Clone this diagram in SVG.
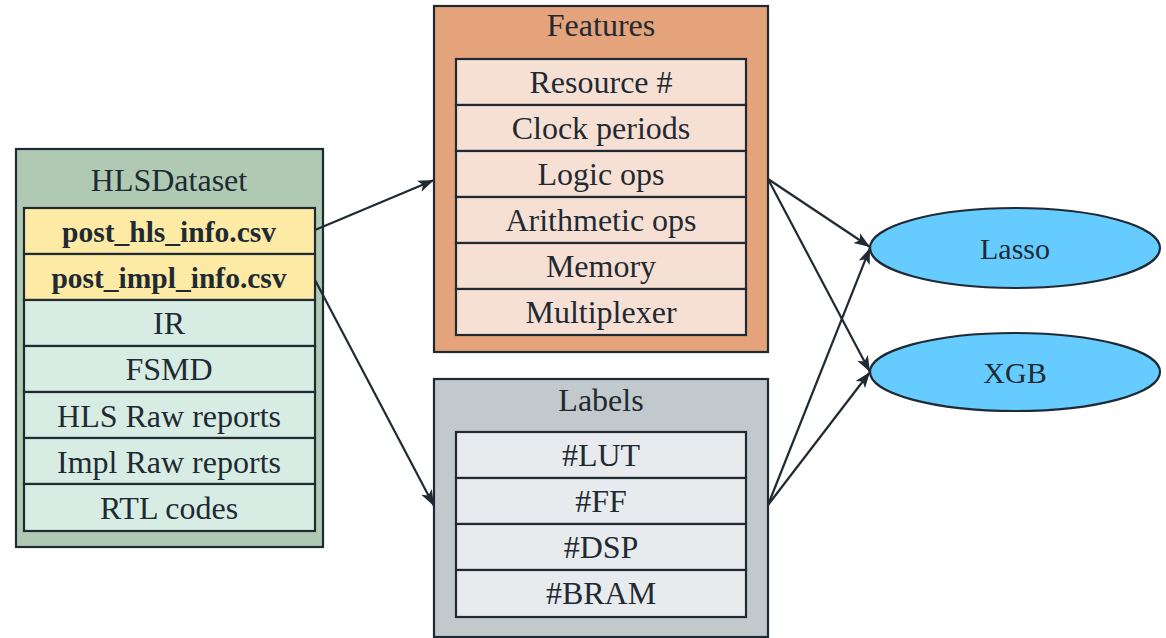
<svg xmlns="http://www.w3.org/2000/svg" width="1166" height="638" viewBox="0 0 1166 638">
  <style>
    text { font-family: "Liberation Serif", "Times New Roman", serif; font-size: 32px; fill: #1f2a33; text-anchor: middle; }
    .bold { font-weight: bold; font-size: 29.5px; }
    .small { font-size: 30px; }
    .outer { stroke: #1f2a33; stroke-width: 2.2; }
    .row { stroke: #1f2a33; stroke-width: 2.2; }
    .ds-outer { fill: #b0c9b3; }
    .ds-row { fill: #d7ede3; }
    .ds-key { fill: #fdeaa5; }
    .ft-outer { fill: #e4a37b; }
    .ft-row { fill: #f6e0d3; }
    .lb-outer { fill: #c1c9cc; }
    .lb-row { fill: #e7ebed; }
    .model { fill: #66cbff; stroke: #1f2a33; stroke-width: 2.2; }
    .edge { fill: none; stroke: #1f2a33; stroke-width: 2.2; }
  </style>
  <defs>
    <marker id="arrow" markerUnits="userSpaceOnUse" markerWidth="18" markerHeight="14" refX="16" refY="6" orient="auto">
      <path d="M0,0 L16,6 L0,12 L4,6 z" fill="#1f2a33"/>
    </marker>
  </defs>

  <rect width="1166" height="638" fill="#ffffff"/>

  <!-- dataset files -->
  <g id="hlsdataset">
    <rect class="outer ds-outer" x="16" y="149" width="307" height="398"/>
    <text x="169" y="191">HLSDataset</text>
    <rect class="row ds-key" x="24" y="208" width="291" height="46"/>
    <rect class="row ds-key" x="24" y="254" width="291" height="46"/>
    <rect class="row ds-row" x="24" y="300" width="291" height="46"/>
    <rect class="row ds-row" x="24" y="346" width="291" height="46"/>
    <rect class="row ds-row" x="24" y="392" width="291" height="46"/>
    <rect class="row ds-row" x="24" y="438" width="291" height="46"/>
    <rect class="row ds-row" x="24" y="484" width="291" height="47"/>
    <text class="bold" x="169" y="242">post_hls_info.csv</text>
    <text class="bold" x="169" y="288">post_impl_info.csv</text>
    <text x="169" y="334">IR</text>
    <text x="169" y="380">FSMD</text>
    <text x="169" y="427">HLS Raw reports</text>
    <text x="169" y="473">Impl Raw reports</text>
    <text x="169" y="519">RTL codes</text>
  </g>

  <!-- feature table -->
  <g id="features">
    <rect class="outer ft-outer" x="434" y="6" width="334" height="346"/>
    <text x="601" y="36">Features</text>
    <rect class="row ft-row" x="456" y="59" width="290" height="46"/>
    <rect class="row ft-row" x="456" y="105" width="290" height="46"/>
    <rect class="row ft-row" x="456" y="151" width="290" height="46"/>
    <rect class="row ft-row" x="456" y="197" width="290" height="46"/>
    <rect class="row ft-row" x="456" y="243" width="290" height="46"/>
    <rect class="row ft-row" x="456" y="289" width="290" height="46"/>
    <text x="601" y="93">Resource #</text>
    <text x="601" y="139">Clock periods</text>
    <text x="601" y="185">Logic ops</text>
    <text x="601" y="231">Arithmetic ops</text>
    <text x="601" y="277">Memory</text>
    <text x="601" y="323">Multiplexer</text>
  </g>

  <!-- label table -->
  <g id="labels">
    <rect class="outer lb-outer" x="434" y="379" width="334" height="258"/>
    <text x="601" y="411">Labels</text>
    <rect class="row lb-row" x="456" y="432" width="290" height="46"/>
    <rect class="row lb-row" x="456" y="478" width="290" height="46"/>
    <rect class="row lb-row" x="456" y="524" width="290" height="46"/>
    <rect class="row lb-row" x="456" y="570" width="290" height="47"/>
    <text x="601" y="466">#LUT</text>
    <text x="601" y="512">#FF</text>
    <text x="601" y="558">#DSP</text>
    <text x="601" y="604">#BRAM</text>
  </g>

  <!-- models -->
  <g id="lasso">
    <ellipse class="model" cx="1015" cy="248" rx="145" ry="40"/>
    <text class="small" x="1015" y="259">Lasso</text>
  </g>
  <g id="xgb">
    <ellipse class="model" cx="1015" cy="372" rx="145" ry="39"/>
    <text class="small" x="1015" y="383">XGB</text>
  </g>

  <!-- connectors -->
  <g id="edges">
    <path class="edge" d="M315,230 L434,180" marker-end="url(#arrow)"/>
    <path class="edge" d="M315,280 L434,506" marker-end="url(#arrow)"/>
    <path class="edge" d="M768,179 L870,247" marker-end="url(#arrow)"/>
    <path class="edge" d="M768,179 L870,372" marker-end="url(#arrow)"/>
    <path class="edge" d="M768,505 L870,248" marker-end="url(#arrow)"/>
    <path class="edge" d="M768,505 L870,372" marker-end="url(#arrow)"/>
  </g>
</svg>
